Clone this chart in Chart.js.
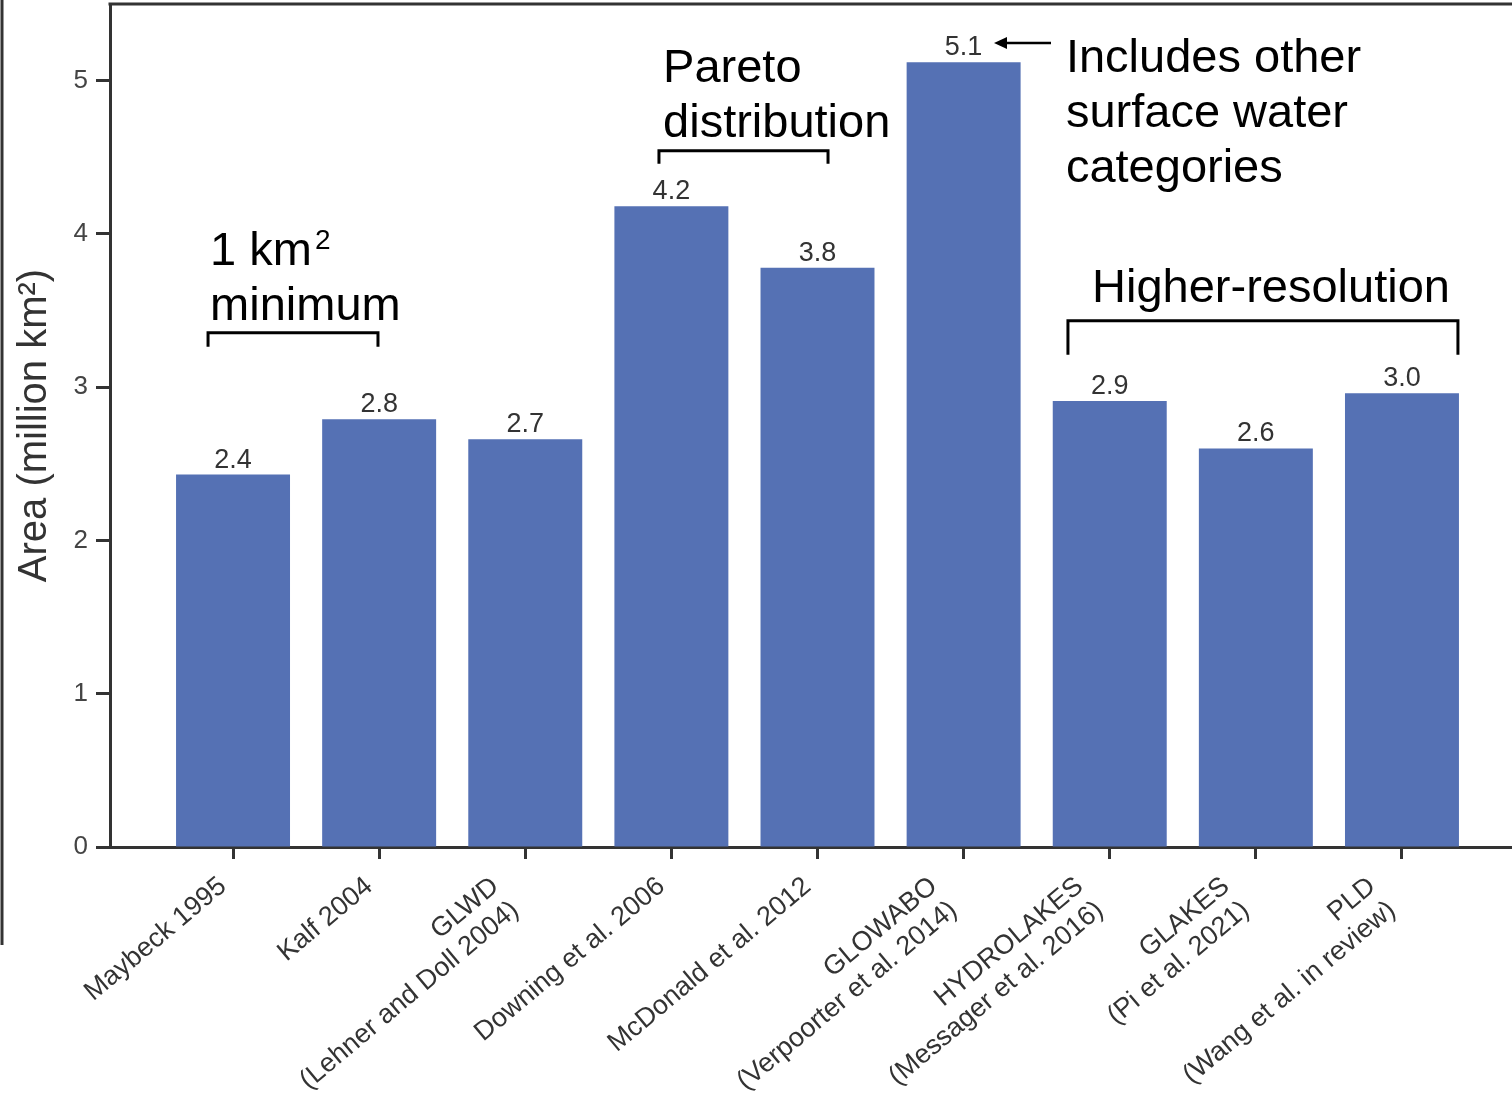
<!DOCTYPE html>
<html>
<head>
<meta charset="utf-8">
<script src="https://cdn.jsdelivr.net/npm/chart.js@4.4.1/dist/chart.umd.min.js"></script>
<style>
  html, body { margin: 0; padding: 0; background: #ffffff; }
  #wrap { width: 1512px; height: 1093px; }
</style>
</head>
<body>
<div id="wrap"><canvas id="c" width="1512" height="1093"></canvas></div>
<script>
// ---------- data ----------
const CATEGORIES = [
  'Maybeck 1995',
  'Kalf 2004',
  ['GLWD', '(Lehner and Doll 2004)'],
  'Downing et al. 2006',
  'McDonald et al. 2012',
  ['GLOWABO', '(Verpoorter et al. 2014)'],
  ['HYDROLAKES', '(Messager et al. 2016)'],
  ['GLAKES', '(Pi et al. 2021)'],
  ['PLD', '(Wang et al. in review)']
];
const AREA_VALUES = [2.43, 2.79, 2.66, 4.18, 3.78, 5.12, 2.91, 2.60, 2.96];
const Y_TICKS = [0, 1, 2, 3, 4, 5];
const Y_TITLE = 'Area (million km²)';

// ---------- annotations (in data units of the scales) ----------
const NOTES = [
  { x: -0.157, y: 3.80, lines: [[['1 km', false], ['2', true]], [['minimum', false]]] },
  { x: 2.943, y: 4.993, lines: [[['Pareto', false]], [['distribution', false]]] },
  { x: 5.70, y: 5.058, lines: [[['Includes other', false]], [['surface water', false]], [['categories', false]]] },
  { x: 5.879, y: 3.557, lines: [[['Higher-resolution', false]]] }
];
const BRACKETS = [
  { x0: -0.171, x1: 0.992, y: 3.355, yEnd: 3.264 },
  { x0: 2.915, x1: 4.072, y: 4.543, yEnd: 4.458 },
  { x0: 5.714, x1: 8.383, y: 3.433, yEnd: 3.211 }
];
const ARROW = { from: 5.598, to: 5.208, y: 5.245 };

const FONT = "'Liberation Sans', Arial, sans-serif";
const BAR_COLOR = '#5571B4';
const AXIS_COLOR = '#333333';

// shift rotated multi-line tick labels so that the whole rotated block ends at the tick
const labelAnchor = {
  id: 'labelAnchor',
  beforeDraw(chart) {
    const xs = chart.scales.x;
    if (!xs || !xs.getLabelItems) return;
    const items = xs.getLabelItems();
    const rot = (xs.labelRotation || 0) * Math.PI / 180;
    items.forEach(it => {
      if (it.__shifted || !it.options || !it.options.translation) return;
      const n = Array.isArray(it.label) ? it.label.length : 1;
      const lh = it.font.lineHeight;
      it.options.translation[0] -= (n - 0.5) * lh * Math.sin(rot);
      it.__shifted = true;
    });
  }
};

const decor = {
  id: 'decor',
  afterDraw(chart) {
    const ctx = chart.ctx;
    const xs = chart.scales.x, ys = chart.scales.y;
    const ca = chart.chartArea;
    ctx.save();
    // top spine
    ctx.strokeStyle = AXIS_COLOR;
    ctx.lineWidth = 3;
    ctx.beginPath();
    ctx.moveTo(ca.left - 1.5, ca.top);
    ctx.lineTo(ca.right, ca.top);
    ctx.stroke();
    // left edge line of neighbouring panel
    ctx.beginPath();
    ctx.moveTo(2, 0);
    ctx.lineTo(2, ys.getPixelForValue(-0.64));
    ctx.stroke();

    // value labels
    const meta = chart.getDatasetMeta(0);
    ctx.fillStyle = '#333333';
    ctx.font = '27px ' + FONT;
    ctx.textAlign = 'center';
    ctx.textBaseline = 'alphabetic';
    meta.data.forEach((bar, i) => {
      ctx.fillText(AREA_VALUES[i].toFixed(1), bar.x, bar.y - 7);
    });

    // annotation text
    ctx.fillStyle = '#000000';
    ctx.textAlign = 'left';
    NOTES.forEach(n => {
      const px = xs.getPixelForValue(n.x);
      let py = ys.getPixelForValue(n.y);
      n.lines.forEach(line => {
        let cx = px;
        line.forEach(([t, sup]) => {
          if (sup) {
            ctx.font = '28px ' + FONT;
            ctx.fillText(t, cx + 3, py - 16);
            cx += ctx.measureText(t).width + 3;
          } else {
            ctx.font = '47px ' + FONT;
            ctx.fillText(t, cx, py);
            cx += ctx.measureText(t).width;
          }
        });
        py += 55;
      });
    });

    // brackets
    ctx.strokeStyle = '#000000';
    ctx.lineWidth = 3;
    ctx.lineJoin = 'miter';
    BRACKETS.forEach(b => {
      const x0 = xs.getPixelForValue(b.x0), x1 = xs.getPixelForValue(b.x1);
      const y = ys.getPixelForValue(b.y), y2 = ys.getPixelForValue(b.yEnd);
      ctx.beginPath();
      ctx.moveTo(x0, y2);
      ctx.lineTo(x0, y);
      ctx.lineTo(x1, y);
      ctx.lineTo(x1, y2);
      ctx.stroke();
    });

    // arrow
    const ax0 = xs.getPixelForValue(ARROW.from), ax1 = xs.getPixelForValue(ARROW.to);
    const ay = ys.getPixelForValue(ARROW.y);
    ctx.lineWidth = 2.5;
    ctx.beginPath();
    ctx.moveTo(ax0, ay);
    ctx.lineTo(ax1 + 8, ay);
    ctx.stroke();
    ctx.fillStyle = '#000000';
    ctx.beginPath();
    ctx.moveTo(ax1, ay);
    ctx.lineTo(ax1 + 13, ay - 6);
    ctx.lineTo(ax1 + 13, ay + 6);
    ctx.closePath();
    ctx.fill();
    ctx.restore();
  }
};

new Chart(document.getElementById('c'), {
  type: 'bar',
  data: {
    datasets: [{
      data: AREA_VALUES.map((v, i) => ({ x: i, y: v })),
      backgroundColor: BAR_COLOR,
      borderWidth: 0,
      categoryPercentage: 1.0,
      barPercentage: 0.78
    }]
  },
  options: {
    responsive: false,
    animation: false,
    devicePixelRatio: 1,
    layout: { padding: { top: 4, right: 0, bottom: 0, left: 0 } },
    plugins: { legend: { display: false }, tooltip: { enabled: false } },
    scales: {
      x: {
        type: 'linear',
        offset: false,
        min: -0.842,
        max: 8.753,
        afterBuildTicks: (axis) => { axis.ticks = CATEGORIES.map((c, i) => ({ value: i })); },
        afterFit: (axis) => { axis.height = 246; axis.paddingLeft = 0; axis.paddingRight = 0; },
        border: { display: true, color: AXIS_COLOR, width: 3 },
        grid: { display: true, offset: false, drawOnChartArea: false, drawTicks: true, tickLength: 12, tickWidth: 3, tickColor: AXIS_COLOR },
        ticks: {
          autoSkip: false,
          minRotation: 40,
          maxRotation: 40,
          padding: 12,
          color: '#333333',
          font: { family: FONT, size: 27, lineHeight: 1.15 },
          callback: (v) => CATEGORIES[v]
        }
      },
      y: {
        min: 0,
        max: 5.5,
        afterBuildTicks: (axis) => { axis.ticks = Y_TICKS.map(v => ({ value: v })); },
        afterFit: (axis) => { axis.width = 110; axis.paddingTop = 0; axis.paddingBottom = 0; },
        border: { display: true, color: AXIS_COLOR, width: 3 },
        grid: { display: true, drawOnChartArea: false, drawTicks: true, tickLength: 14, tickWidth: 3, tickColor: AXIS_COLOR },
        ticks: {
          padding: 8,
          color: '#444444',
          font: { family: FONT, size: 26 },
          callback: (v) => String(v)
        },
        title: {
          display: true,
          text: Y_TITLE,
          color: '#333333',
          font: { family: FONT, size: 40 },
          padding: { top: 11, bottom: 0 }
        }
      }
    }
  },
  plugins: [labelAnchor, decor]
});
</script>
</body>
</html>
